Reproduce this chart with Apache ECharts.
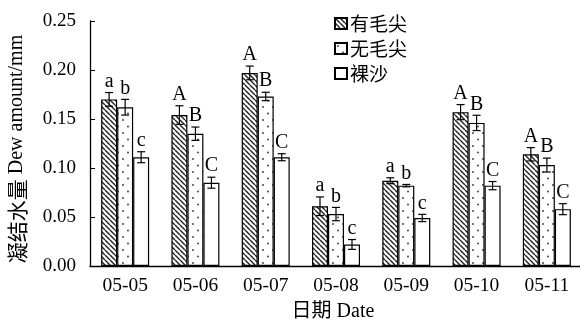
<!DOCTYPE html>
<html>
<head>
<meta charset="utf-8">
<script src="https://cdn.jsdelivr.net/npm/echarts@6/dist/echarts.min.js"></script>
<style>
  html, body { margin: 0; padding: 0; background: #fff; }
  #chart { width: 580px; height: 322px; }
</style>
</head>
<body>
<div id="chart"></div>
<script>
// Dew amount (mm) per day for three surface types, mean ± error
const dates = ['05-05', '05-06', '05-07', '05-08', '05-09', '05-10', '05-11'];
const seriesNames = ['有毛尖', '无毛尖', '裸沙'];

const hairyTip    = [0.170, 0.154, 0.197, 0.061, 0.087, 0.157, 0.114];
const hairyTipErr = [0.007, 0.0095, 0.007, 0.0095, 0.003, 0.0077, 0.0068];
const hairyTipSig = ['a', 'A', 'A', 'a', 'a', 'A', 'A'];

const noTip    = [0.162, 0.135, 0.173, 0.053, 0.082, 0.146, 0.103];
const noTipErr = [0.008, 0.0068, 0.0043, 0.0068, 0.0012, 0.0078, 0.0071];
const noTipSig = ['b', 'B', 'B', 'b', 'b', 'B', 'B'];

const bareSand    = [0.111, 0.085, 0.111, 0.022, 0.049, 0.082, 0.058];
const bareSandErr = [0.0056, 0.0056, 0.0036, 0.005, 0.0037, 0.0042, 0.0056];
const bareSandSig = ['c', 'C', 'C', 'c', 'c', 'C', 'C'];

const yTicks = { min: 0, max: 0.25, interval: 0.05 };
const yTitleCn = '凝结水量';
const yTitleEn = 'Dew amount/mm';
const xTitle = '日期 Date';

const SERIF = "'Liberation Serif', 'Times New Roman', 'Noto Sans CJK SC', serif";
const CJK = "'Noto Sans CJK SC', 'Liberation Serif', serif";
const BAR_W = 16;

// Fill patterns: diagonal hatching and sparse dots
function hatchPattern() {
  const s = 5;
  const c = document.createElement('canvas');
  c.width = s; c.height = s;
  const g = c.getContext('2d');
  g.fillStyle = '#fff';
  g.fillRect(0, 0, s, s);
  g.strokeStyle = '#222';
  g.lineWidth = 1.4;
  for (const k of [-s, 0, s]) {
    g.beginPath();
    g.moveTo(k, 0);
    g.lineTo(k + s, s);
    g.stroke();
  }
  return { image: c, repeat: 'repeat' };
}
function dotPattern() {
  const w = 10, h = 13;
  const c = document.createElement('canvas');
  c.width = w; c.height = h;
  const g = c.getContext('2d');
  g.fillStyle = '#fff';
  g.fillRect(0, 0, w, h);
  g.fillStyle = '#333';
  g.beginPath(); g.arc(3, 3, 0.9, 0, Math.PI * 2); g.fill();
  g.beginPath(); g.arc(8, 9.5, 0.9, 0, Math.PI * 2); g.fill();
  return { image: c, repeat: 'repeat' };
}

const fills = [hatchPattern(), dotPattern(), '#fff'];
const means = [hairyTip, noTip, bareSand];
const errs = [hairyTipErr, noTipErr, bareSandErr];
const sigs = [hairyTipSig, noTipSig, bareSandSig];

const barSeries = means.map((vals, k) => ({
  name: seriesNames[k],
  type: 'bar',
  data: vals,
  barWidth: BAR_W,
  barGap: '0%',
  itemStyle: { color: fills[k], borderColor: '#000', borderWidth: 1.2 },
  emphasis: { disabled: true },
  z: 2
}));

// Error bars and significance letters, positioned from the same axis scale
const errorSeries = means.map((vals, k) => ({
  type: 'custom',
  data: vals.map((v, i) => [i, v, errs[k][i]]),
  z: 5,
  silent: true,
  renderItem(params, api) {
    const ci = api.value(0), v = api.value(1), e = api.value(2);
    const center = api.coord([ci, v]);
    const x = center[0] + (k - 1) * BAR_W;
    const yTop = api.coord([ci, v + e])[1];
    const yBot = api.coord([ci, v - e])[1];
    const cap = 4;
    const ls = { stroke: '#000', lineWidth: 1.2 };
    return {
      type: 'group',
      children: [
        { type: 'line', shape: { x1: x, y1: yTop, x2: x, y2: yBot }, style: ls },
        { type: 'line', shape: { x1: x - cap, y1: yTop, x2: x + cap, y2: yTop }, style: ls },
        { type: 'line', shape: { x1: x - cap, y1: yBot, x2: x + cap, y2: yBot }, style: ls },
        {
          type: 'text',
          style: {
            x: x, y: yTop - 1,
            text: sigs[k][params.dataIndex],
            align: 'center', verticalAlign: 'bottom',
            font: '20px ' + SERIF, fill: '#000'
          }
        }
      ]
    };
  }
}));

const chart = echarts.init(document.getElementById('chart'), null, { renderer: 'canvas' });
chart.setOption({
  animation: false,
  backgroundColor: '#fff',
  grid: { left: 90, top: 21, width: 492, height: 245, outerBoundsMode: 'none', containLabel: false },
  legend: {
    data: seriesNames,
    orient: 'vertical',
    left: 329, top: 9,
    icon: 'rect',
    itemWidth: 12, itemHeight: 11,
    itemGap: 6,
    textStyle: { fontFamily: CJK, fontSize: 19, color: '#000', padding: [0, 0, 0, -2] },
    selectedMode: false
  },
  graphic: [{
    type: 'text',
    x: 17, y: 149,
    rotation: Math.PI / 2,
    style: {
      text: '{cn|' + yTitleCn + '} {en|' + yTitleEn + '}',
      rich: {
        cn: { fontFamily: CJK, fontSize: 21, fill: '#000' },
        en: { fontFamily: SERIF, fontSize: 20, fill: '#000' }
      },
      font: '20px ' + SERIF,
      fill: '#000',
      align: 'center',
      verticalAlign: 'middle'
    },
    silent: true
  }],
  xAxis: {
    type: 'category',
    data: dates,
    name: xTitle,
    nameLocation: 'middle',
    nameGap: 36,
    nameTextStyle: { fontFamily: SERIF, fontSize: 20, color: '#000', padding: [0, 6, 0, 0] },
    axisLine: { lineStyle: { color: '#000', width: 1.3 } },
    axisTick: { inside: true, length: 4, lineStyle: { color: '#000' } },
    axisLabel: { fontFamily: SERIF, fontSize: 19.5, color: '#000', margin: 10 }
  },
  yAxis: {
    type: 'value',
    min: yTicks.min, max: yTicks.max, interval: yTicks.interval,
    axisLine: { show: true, lineStyle: { color: '#000', width: 1.3 } },
    axisTick: { show: true, inside: true, length: 5, lineStyle: { color: '#000' } },
    axisLabel: {
      fontFamily: SERIF, fontSize: 19, color: '#000', margin: 14,
      formatter: v => v.toFixed(2)
    },
    splitLine: { show: false }
  },
  series: [...barSeries, ...errorSeries]
});
</script>
</body>
</html>
